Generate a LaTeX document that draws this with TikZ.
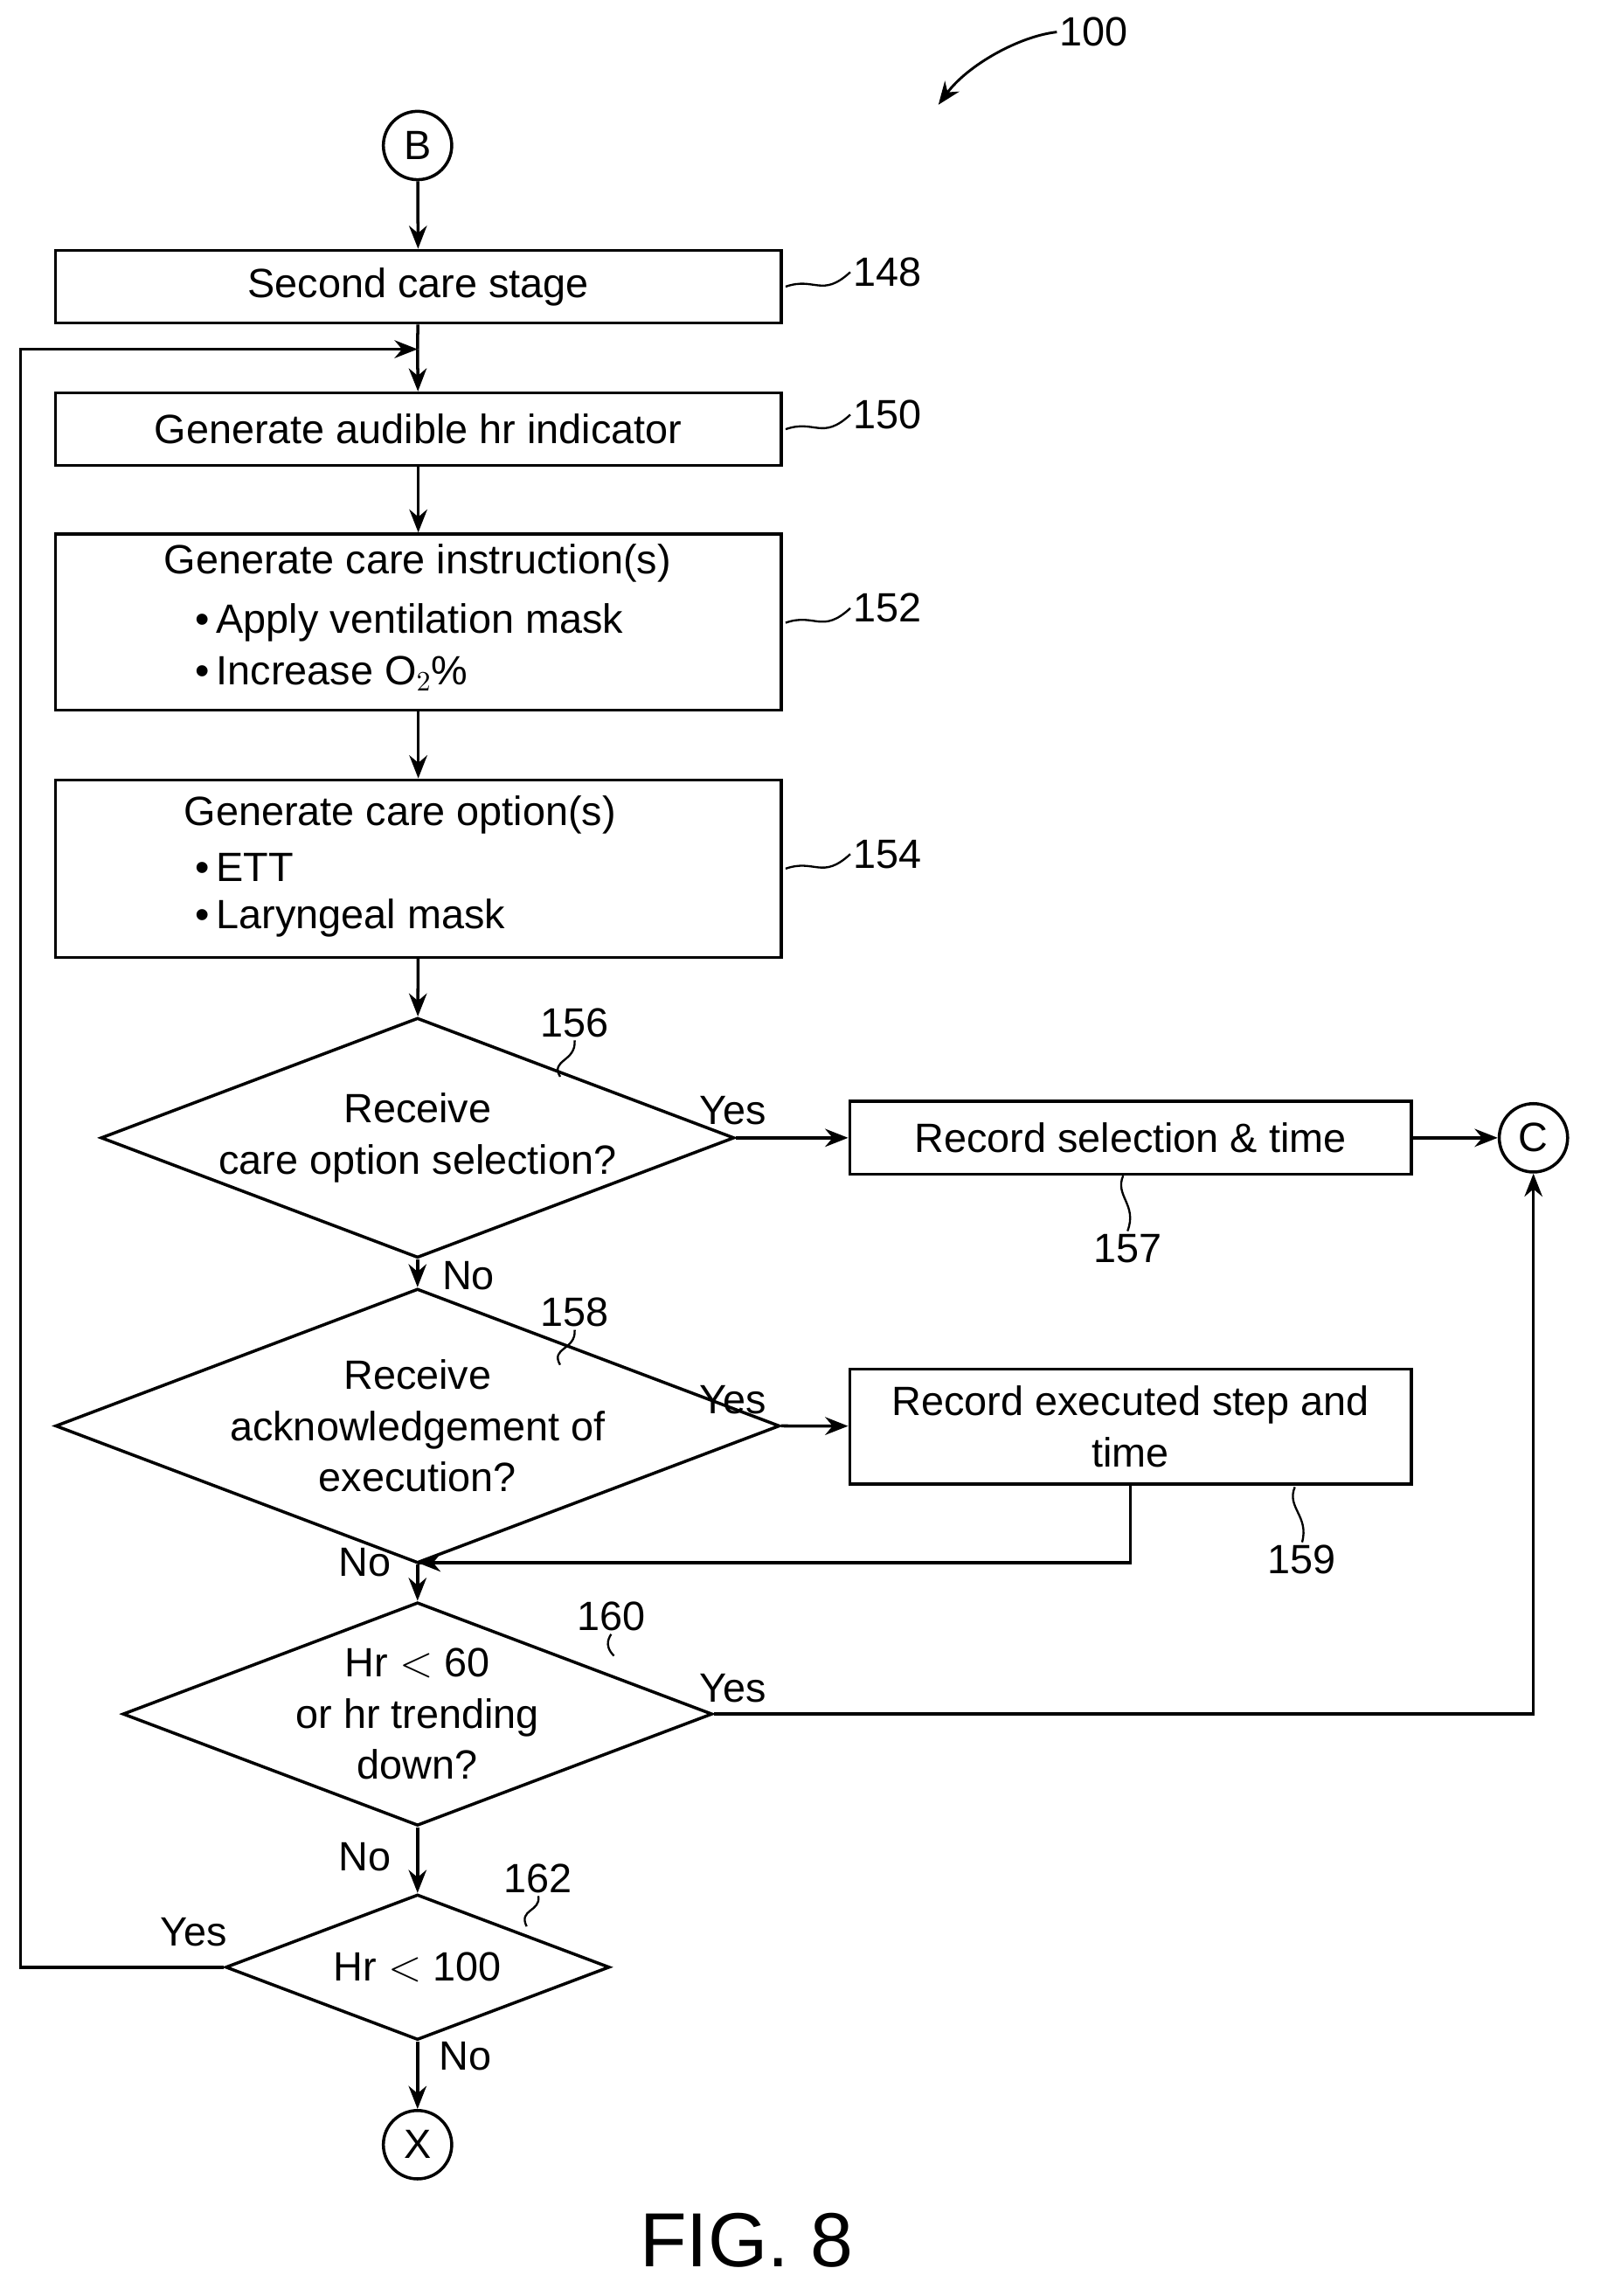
\documentclass[tikz,border=0pt]{standalone}
\usepackage{fontspec}
\setmainfont{Liberation Sans}
\usetikzlibrary{shapes.geometric,arrows.meta}
\begin{document}
\begin{tikzpicture}[x=0.02cm,y=-0.02cm,
  every node/.style={font=\fontsize{16}{20}\selectfont},
  box/.style={draw,line width=1.2pt,minimum height=1cm,inner sep=0pt},
  dia/.style={draw,line width=1.2pt,diamond,aspect=2.64,minimum width=7.9cm,minimum height=3cm,inner sep=0pt,align=center},
  circ/.style={draw,line width=1.2pt,circle,minimum size=0.94cm,inner sep=0pt},
  line/.style={line width=1.2pt},
  arr/.style={line width=1.2pt,-{Stealth[length=9pt,width=7pt]}},
  sq/.style={line width=0.8pt},
  lbl/.style={inner sep=1pt}]
\useasboundingbox (0,0) rectangle (1100,1578);
% start
\node[circ] (B) at (287,100) {B};
\node[box,minimum width=9.98cm] (s148) at (287.5,197) {Second care stage};
\node[box,minimum width=9.98cm] (s150) at (287.5,295) {Generate audible hr indicator};
\node[box,minimum width=9.98cm,minimum height=2.42cm] (s152) at (287.5,427.5) {};
\node (t152a) at (287,387) {Generate care instruction(s)};
\node[anchor=west] (t152b) at (128,428) {\textbullet\,Apply ventilation mask};
\node[anchor=west] (t152c) at (128,463) {\textbullet\,Increase O$_2$\%};
\node[box,minimum width=9.98cm,minimum height=2.44cm] (s154) at (287.5,597) {};
\node (t154a) at (275,560) {Generate care option(s)};
\node[anchor=west] (t154b) at (128,596) {\textbullet\,ETT};
\node[anchor=west] (t154c) at (128,631) {\textbullet\,Laryngeal mask};
\node[dia] (d156) at (287,782) {Receive\\care option selection?};
\node[box,minimum width=7.72cm] (s157) at (777,782) {Record selection \& time};
\node[circ] (C) at (1054,782) {C};
\node[dia] (d158) at (287,980) {Receive\\acknowledgement of\\execution?};
\node[box,minimum width=7.72cm,minimum height=1.58cm,align=center] (s159) at (777,980.5) {Record executed step and\\time};
\coordinate (m1) at (287,1074);
\node[dia] (d160) at (287,1178) {Hr $<$ 60\\or hr trending\\down?};
\node[dia,aspect=2.64,minimum width=5.28cm,minimum height=2cm] (d162) at (287,1352) {Hr $<$ 100};
\node[circ] (X) at (287,1474) {X};
\coordinate (j1) at (287,240);
\coordinate (L1) at (14,240);
\coordinate (L2) at (14,1352);
\coordinate (r1) at (1054,1178);
\coordinate (r2) at (777,1074);
% connectors
\draw[arr] (B) -- (s148);
\draw[line] (s148) -- (j1);
\draw[arr] (j1) -- (s150);
\draw[arr] (s150) -- (s152);
\draw[arr] (s152) -- (s154);
\draw[arr] (s154) -- (d156);
\draw[arr] (d156.east) -- (s157);
\draw[arr] (s157) -- (C);
\draw[arr] (d156.south) -- (d158.north);
\draw[arr] (d158.east) -- (s159);
\draw[line] (s159.south -| r2) -- (r2) -- (m1);
\draw[arr] (r2) -- (m1);
\draw[arr] (d158.south) -- (d160.north);
\draw[arr] (d160.east) -- (r1) -- (C.south);
\draw[arr] (d160.south) -- (d162.north);
\draw[arr] (d162.west) -- (L2) -- (L1) -- (j1);
\draw[arr] (d162.south) -- (X);
% labels
\node[lbl] (yes1) at (504,763) {Yes};
\node[lbl] (no1) at (322,877) {No};
\node[lbl] (yes2) at (504,962) {Yes};
\node[lbl] (no2) at (251,1074) {No};
\node[lbl] (yes3) at (504,1160) {Yes};
\node[lbl] (no3) at (251,1276) {No};
\node[lbl] (yes4) at (133,1328) {Yes};
\node[lbl] (no4) at (320,1413) {No};
% reference numerals
\node[lbl] (n148) at (610,187) {148};
\node[lbl] (n150) at (610,285) {150};
\node[lbl] (n152) at (610,418) {152};
\node[lbl] (n154) at (610,587) {154};
\node[lbl] (n156) at (395,703) {156};
\node[lbl] (n157) at (775,858) {157};
\node[lbl] (n158) at (395,902) {158};
\node[lbl] (n159) at (895,1072) {159};
\node[lbl] (n160) at (420,1111) {160};
\node[lbl] (n162) at (370,1291) {162};
\node[lbl] (n100) at (752,22) {100};
\draw[sq] (540,197) .. controls (560,190) and (565,205) .. (n148.west);
\draw[sq] (540,295) .. controls (560,288) and (565,303) .. (n150.west);
\draw[sq] (540,428) .. controls (560,421) and (565,436) .. (n152.west);
\draw[sq] (540,597) .. controls (560,590) and (565,605) .. (n154.west);
\draw[sq] (385,740) .. controls (378,728) and (396,730) .. (n156.south);
\draw[sq] (385,938) .. controls (378,926) and (396,928) .. (n158.south);
\draw[sq] (772,808) .. controls (766,822) and (782,828) .. (n157.north);
\draw[sq] (890,1022) .. controls (884,1036) and (900,1042) .. (n159.north);
\draw[sq] (362,1324) .. controls (356,1312) and (372,1314) .. (n162.south);
\draw[sq] (422,1138) .. controls (414,1130) and (420,1124) .. (n160.south);
\draw[arr,line width=1pt] (n100.west) .. controls (700,25) and (665,45) .. (645,72);
\node (fig) at (513,1540) {\fontsize{30}{36}\selectfont FIG. 8};
\end{tikzpicture}
\end{document}
